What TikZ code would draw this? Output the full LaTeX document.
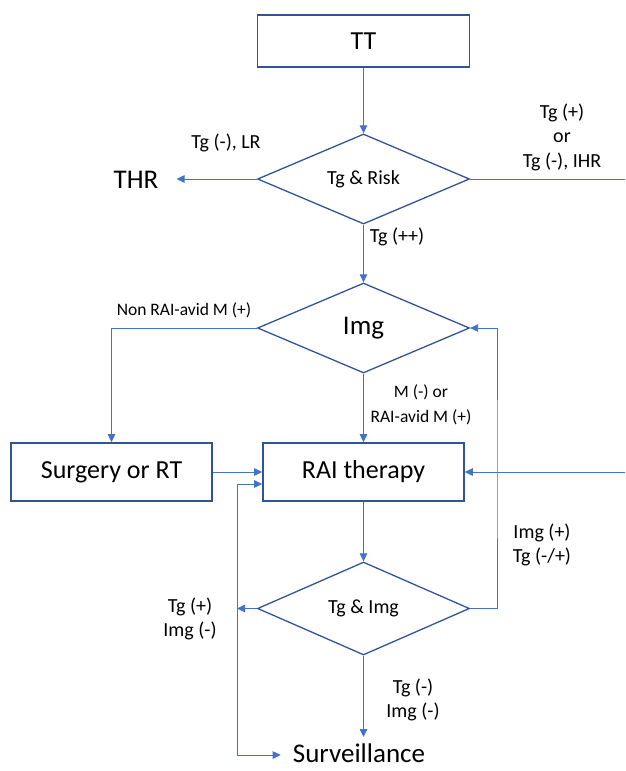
\documentclass[tikz,border=0pt]{standalone}
\usepackage{fontspec}
\setmainfont{Carlito}
\usetikzlibrary{positioning,calc,arrows.meta,shapes.geometric}
\definecolor{boxblue}{HTML}{2F5597}
\definecolor{arrblue}{HTML}{4472C4}

\begin{document}
\begin{tikzpicture}[
        x=1pt, y=-1pt,
        box/.style={draw=boxblue, line width=1.6pt, minimum width=212pt, minimum height=52pt, font=\fontsize{26}{30}\selectfont},
        dec/.style={draw=boxblue, line width=1.3pt, diamond, inner sep=0pt, minimum width=212pt, minimum height=90pt, font=\fontsize{20}{24}\selectfont},
        lbl/.style={align=center, font=\fontsize{20}{24.5}\selectfont},
        smalllbl/.style={align=center, font=\fontsize{17.5}{25}\selectfont},
        big/.style={inner sep=0pt, font=\fontsize{27}{32}\selectfont},
        arr/.style={draw=arrblue, line width=0.9pt, -{Triangle[length=8pt,width=7.5pt]}},
        ln/.style={draw=arrblue, line width=0.9pt}
    ]
    \useasboundingbox (0,0) rectangle (625,771);

    % Top box and first check
    \node[box] (tt) at (363.5,41) {TT};
    \node[dec] (risk) at (363.5,179) {Tg \& Risk};
    \node[big] (thr) at (136,180) {THR};
    \coordinate (rin) at (625,179);

    % Imaging check
    \node[dec, font=\fontsize{27}{32}\selectfont] (img) at (363.5,328) {Img};

    % Treatment boxes
    \node[box, minimum width=201pt, minimum height=58pt] (surg) at (111.5,472) {Surgery or RT};
    \node[box, minimum width=201pt, minimum height=58pt] (rai) at (363.5,472) {RAI therapy};
    \coordinate (tin) at (625,472);

    % Follow-up check
    \node[dec, minimum height=93pt] (fu) at (363.5,608.5) {Tg \& Img};
    \node[big, anchor=north, inner xsep=12pt] (surv) at (359,744) {Surveillance};

    % Labels on the connectors
    \node[lbl] (l1) at (226,143) {Tg (-), LR};
    \node[lbl] (l2) at (562,137) {Tg (+)\\or\\Tg (-), IHR};
    \node[lbl] (l3) at (397,237) {Tg (++)};
    \node[smalllbl] (l4) at (184,310) {Non RAI-avid M (+)};
    \node[smalllbl] (l5) at (421,405) {M (-) or\\RAI-avid M (+)};
    \node[lbl] (l6) at (542,545) {Img (+)\\Tg (-/+)};
    \node[lbl] (l7) at (190,619) {Tg (+)\\Img (-)};
    \node[lbl] (l8) at (413,700) {Tg (-)\\Img (-)};

    % Connectors
    \draw[arr] (tt.south) -- (risk.north);
    \draw[arr] (risk.west) -- ([xshift=18pt]thr.east |- risk.west);
    \draw[ln] (risk.east) -- (rin);
    \draw[arr] (risk.south) -- (img.north);
    \draw[arr] (img.west) -| (surg.north);
    \draw[arr] (img.south) -- (rai.north);
    \draw[arr] (surg) -- (rai);
    \draw[arr] (tin) -- (rai);
    \draw[arr] (rai.south) -- (fu.north);
    \draw[arr, shorten >=7pt] (fu.south) -- (fu.south |- surv.north);

    % Feedback loop to imaging
    \coordinate (fb) at (497,470);
    \draw[arr] (fu.east) -| (fb) |- (img.east);

    % Left loop back to therapy and to surveillance
    \coordinate (vtop) at (237,484);
    \coordinate (vbot) at (237,755);
    \draw[arr] (fu.west) -- (fu.west -| vtop);
    \draw[arr] (vtop) -- (vtop -| rai.west);
    \draw[arr] (vtop) -- (vbot) -- (vbot -| surv.west);

\end{tikzpicture}
\end{document}
